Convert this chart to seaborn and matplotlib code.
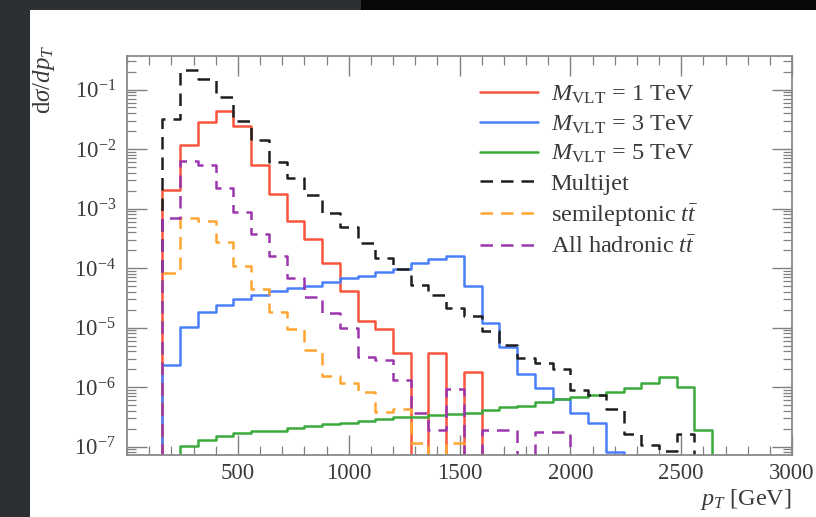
import numpy as np
import pandas as pd
import matplotlib
matplotlib.use("Agg")
import matplotlib.pyplot as plt
from matplotlib.patches import Rectangle
from matplotlib.ticker import MultipleLocator, LogLocator, NullFormatter
import seaborn as sns

# ---------------------------------------------------------------------------
# pT binning [GeV]: 80 GeV wide bins from 160 GeV to 2640 GeV
bin_edges = np.arange(160, 2641, 80)

# Differential cross sections per bin (d sigma / d pT)
vlt_1tev = [2.04e-3, 1.19e-2, 2.86e-2, 4.33e-2, 2.42e-2, 5.37e-3, 1.73e-3, 6.24e-4,
            3.14e-4, 1.23e-4, 4.18e-5, 1.31e-5, 9.4e-6, 3.69e-6, 0.0, 3.69e-6,
            0.0, 1.83e-6, 0.0, 0.0, 0.0, 0.0, 0.0, 0.0, 0.0, 0.0, 0.0, 0.0,
            0.0, 0.0, 0.0]
vlt_3tev = [2.35e-6, 1.04e-5, 1.81e-5, 2.40e-5, 3.0e-5, 3.54e-5, 4.13e-5, 4.58e-5,
            5.01e-5, 5.78e-5, 6.83e-5, 7.52e-5, 8.77e-5, 9.84e-5, 1.22e-4, 1.45e-4,
            1.58e-4, 5.0e-5, 1.21e-5, 4.8e-6, 1.64e-6, 9.6e-7, 6.3e-7, 3.66e-7,
            2.49e-7, 8.05e-8, 0.0, 0.0, 0.0, 0.0, 0.0]
vlt_5tev = [0.0, 1.02e-7, 1.31e-7, 1.49e-7, 1.69e-7, 1.85e-7, 1.81e-7, 2.05e-7,
            2.27e-7, 2.39e-7, 2.55e-7, 2.75e-7, 2.88e-7, 3.11e-7, 3.18e-7, 3.43e-7,
            3.50e-7, 3.75e-7, 4.16e-7, 4.62e-7, 4.85e-7, 5.73e-7, 6.29e-7, 6.80e-7,
            7.43e-7, 8.34e-7, 9.61e-7, 1.18e-6, 1.51e-6, 1.01e-6, 1.88e-7]
multijet = [3.18e-2, 0.211, 0.153, 7.52e-2, 2.97e-2, 1.41e-2, 6.1e-3, 3.21e-3,
            1.69e-3, 8.3e-4, 4.95e-4, 2.64e-4, 1.46e-4, 9.66e-5, 5.2e-5, 3.53e-5,
            2.1e-5, 1.54e-5, 8.9e-6, 5.12e-6, 3.06e-6, 2.55e-6, 2.0e-6, 9.0e-7,
            7.43e-7, 4.28e-7, 1.65e-7, 1.08e-7, 8.6e-8, 1.65e-7, 0.0]
ttbar_semilep = [8.28e-5, 7.06e-4, 6.17e-4, 2.79e-4, 1.07e-4, 4.41e-5, 1.85e-5, 9.4e-6,
                 4.22e-6, 1.55e-6, 1.17e-6, 8.44e-7, 3.9e-7, 4.33e-7, 1.16e-7, 0.0,
                 1.16e-7, 0.0, 0.0, 0.0, 0.0, 0.0, 0.0, 0.0, 0.0, 0.0, 0.0, 0.0,
                 0.0, 0.0, 0.0]
ttbar_allhad = [6.93e-4, 6.19e-3, 5.37e-3, 2.25e-3, 8.73e-4, 3.79e-4, 1.60e-4, 6.87e-5,
                3.31e-5, 1.74e-5, 9.78e-6, 3.19e-6, 2.82e-6, 1.30e-6, 3.75e-7, 1.92e-7,
                9.35e-7, 0.0, 1.92e-7, 1.92e-7, 0.0, 1.78e-7, 1.78e-7, 0.0, 0.0, 0.0,
                0.0, 0.0, 0.0, 0.0, 0.0]

labels = [r"$M_{\mathrm{VLT}}\,=\,1$ TeV", r"$M_{\mathrm{VLT}}\,=\,3$ TeV",
          r"$M_{\mathrm{VLT}}\,=\,5$ TeV", "Multijet",
          r"semileptonic $t\bar{t}$", r"All hadronic $t\bar{t}$"]
x_tick_labels = [500, 1000, 1500, 2000, 2500, 3000]
y_tick_labels = [1e-7, 1e-6, 1e-5, 1e-4, 1e-3, 1e-2, 1e-1]

# ---------------------------------------------------------------------------
sns.set_theme(style="ticks")
plt.rcParams.update({
    "font.family": ["Liberation Serif", "DejaVu Serif"],
    "mathtext.fontset": "custom",
    "mathtext.rm": "Liberation Serif",
    "mathtext.it": "Liberation Serif:italic",
    "mathtext.bf": "Liberation Serif:bold",
    "axes.unicode_minus": True,
})

dash = (0, (5.0, 3.2))
series = [
    (vlt_1tev, "#f9553d", "-"),
    (vlt_3tev, "#4a7ffb", "-"),
    (vlt_5tev, "#3aaa3c", "-"),
    (multijet, "#1e1e1e", dash),
    (ttbar_semilep, "#ffa531", dash),
    (ttbar_allhad, "#9b36ae", dash),
]

fig = plt.figure(figsize=(8.16, 5.17), dpi=100, facecolor="white")

# dark slide border around the embedded figure
fig.patches.append(Rectangle((0, 0), 30 / 816, 1, transform=fig.transFigure,
                             facecolor="#2c3034", edgecolor="none", zorder=-5))
fig.patches.append(Rectangle((0, 1 - 10 / 517), 361 / 816, 10 / 517,
                             transform=fig.transFigure, facecolor="#2c3034",
                             edgecolor="none", zorder=-5))
fig.patches.append(Rectangle((361 / 816, 1 - 10 / 517), 1, 10 / 517,
                             transform=fig.transFigure, facecolor="#080808",
                             edgecolor="none", zorder=-5))

ax = fig.add_axes([127 / 816, 1 - 455 / 517, (792 - 127) / 816, (455 - 56) / 517])
ax.set_facecolor("white")

for (vals, color, ls), lab in zip(series, labels):
    vals = np.asarray(vals, dtype=float)
    # outline of the histogram: closed at both ends down to zero
    xs = np.repeat(bin_edges, 2)
    ys = np.concatenate([[0.0], np.repeat(vals, 2), [0.0]])
    df = pd.DataFrame({"pt": xs, "xsec": ys})
    sns.lineplot(data=df, x="pt", y="xsec", ax=ax, color=color, linestyle=ls,
                 linewidth=1.8, label=lab, estimator=None, sort=False)

ax.set_yscale("log", nonpositive="clip")
ax.set_xlim(0, 3000)
ax.set_ylim(7.26e-8, 0.366)

ax.set_xticks(x_tick_labels)
ax.xaxis.set_minor_locator(MultipleLocator(100))
ax.set_yticks(y_tick_labels)
ax.yaxis.set_minor_locator(LogLocator(base=10, subs=np.arange(2, 10), numticks=20))
ax.yaxis.set_minor_formatter(NullFormatter())

ax.tick_params(which="both", direction="in", top=True, right=True,
               color="#808080", labelcolor="#3a3a3a", labelsize=16.5)
ax.tick_params(which="major", length=14.5, width=1.0)
ax.tick_params(which="minor", length=6.5, width=0.9)
ax.tick_params(axis="y", which="major", pad=8)
ax.tick_params(axis="x", which="major", pad=6)
for sp in ax.spines.values():
    sp.set_color("#8a8a8a")
    sp.set_linewidth(1.3)

ax.set_ylabel(r"$\mathrm{d}\sigma/dp_T$", loc="top", fontsize=18, color="#3a3a3a")
ax.yaxis.set_label_coords(-0.105, 1.03)
ax.set_xlabel(r"$p_T$ [GeV]", loc="right", fontsize=17.5, color="#3a3a3a")
ax.xaxis.set_label_coords(1.0, -0.08)

leg = ax.legend(loc="upper left", bbox_to_anchor=(0.531, 0.93), frameon=False,
                fontsize=17.5, handlelength=2.4, handletextpad=0.5,
                labelspacing=0.3, borderaxespad=0, borderpad=0)
for t in leg.get_texts():
    t.set_color("#3a3a3a")

fig.savefig("out.png", dpi=100, facecolor=fig.get_facecolor())
